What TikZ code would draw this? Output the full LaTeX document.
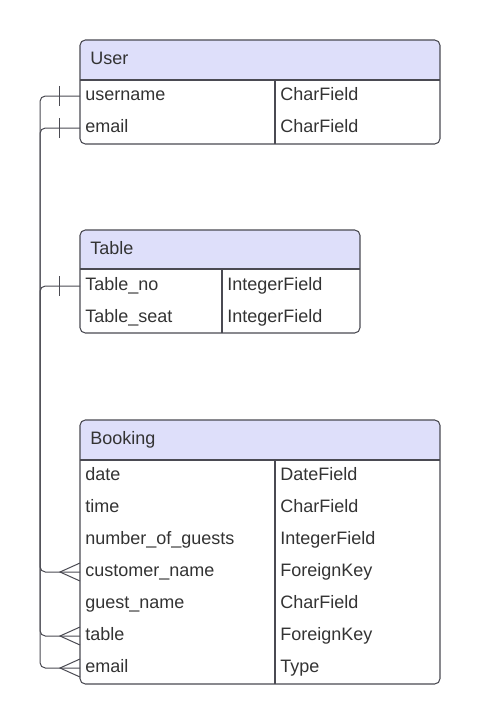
\documentclass[tikz,border=0pt]{standalone}
\usepackage{fontspec}
\setmainfont{Liberation Sans}
\usetikzlibrary{fit, calc, positioning}

\definecolor{hdrblue}{HTML}{DEDFFA}
\definecolor{ink}{HTML}{333333}
\definecolor{edge}{HTML}{4A4A52}

\begin{document}
\begin{tikzpicture}[
    x=0.75pt, y=-0.75pt,
    font=\fontsize{13.5}{16}\selectfont, text=ink,
    frame/.style={rectangle, draw=edge, line width=0.8pt, rounded corners=4pt, inner sep=0pt},
    title/.style={anchor=west, inner xsep=7.5pt, text height=10pt, text depth=3pt},
    field/.style={anchor=west, inner xsep=3.75pt, text height=10pt, text depth=3pt},
    rule/.style={draw=edge, line width=0.8pt},
    link/.style={draw=edge, line width=0.75pt, rounded corners=4pt}
]
    \useasboundingbox (0,0) rectangle (481,724);

    % User
    \begin{scope}
        \clip (80,40) rectangle (440,80);
        \fill[hdrblue, rounded corners=4pt] (80,40) rectangle (440,144);
    \end{scope}
    \node[frame, fit={(80,40) (440,144)}] (user) {};
    \draw[rule] (80,80) -- (440,80) (275,80) -- (275,144);
    \node[title] (user-title) at (80,60) {User};
    \foreach \key/\nm/\ty [count=\i from 0] in {username/username/CharField, email/email/CharField} {
        \node[field] (u-\key) at (80,{96+32*\i}) {\nm};
        \node[field] (u-\key-type) at (275,{96+32*\i}) {\ty};
    }

    % Table
    \begin{scope}
        \clip (80,230) rectangle (360,269);
        \fill[hdrblue, rounded corners=4pt] (80,230) rectangle (360,333);
    \end{scope}
    \node[frame, fit={(80,230) (360,333)}] (table) {};
    \draw[rule] (80,269) -- (360,269) (222,269) -- (222,333);
    \node[title] (table-title) at (80,250) {Table};
    \foreach \key/\nm/\ty [count=\i from 0] in {no/Table\_no/IntegerField, seat/Table\_seat/IntegerField} {
        \node[field] (t-\key) at (80,{286+32*\i}) {\nm};
        \node[field] (t-\key-type) at (222,{286+32*\i}) {\ty};
    }

    % Booking
    \begin{scope}
        \clip (80,420) rectangle (440,460);
        \fill[hdrblue, rounded corners=4pt] (80,420) rectangle (440,684);
    \end{scope}
    \node[frame, fit={(80,420) (440,684)}] (booking) {};
    \draw[rule] (80,460) -- (440,460) (275,460) -- (275,684);
    \node[title] (booking-title) at (80,440) {Booking};
    \foreach \key/\nm/\ty [count=\i from 0] in {date/date/DateField, time/time/CharField,
            guests/number\_of\_guests/IntegerField, customer/customer\_name/ForeignKey,
            guest/guest\_name/CharField, table/table/ForeignKey, email/email/Type} {
        \node[field] (b-\key) at (80,{476+32*\i}) {\nm};
        \node[field] (b-\key-type) at (275,{476+32*\i}) {\ty};
    }

    % relations: one bar at the source, crow's foot at the booking
    \foreach \src/\dst in {u-username/b-customer, u-email/b-email, t-no/b-table} {
        \draw[link] (\src.west) -- ++(-40,0) |- (\dst.west);
        \draw[link] ($(\src.west)+(-21,-10)$) -- ++(0,20);
        \draw[link, rounded corners=0pt] ($(\dst.west)+(0,-9)$) -- ($(\dst.west)+(-20,0)$) -- ($(\dst.west)+(0,9)$);
    }

\end{tikzpicture}
\end{document}
